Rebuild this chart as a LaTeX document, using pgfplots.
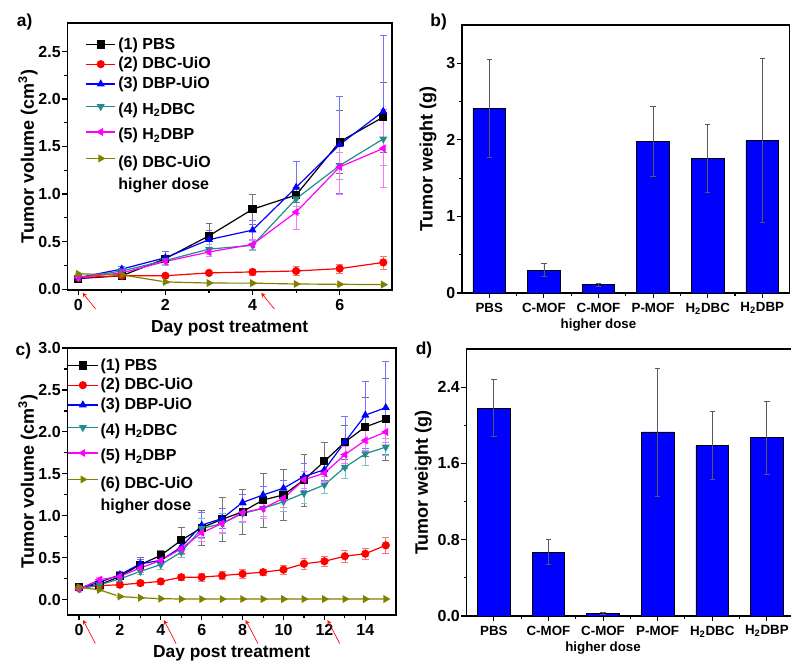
\documentclass[border=0pt]{standalone}
\usepackage{fontspec}
\setmainfont{Liberation Sans}
\usepackage{pgfplots}
\pgfplotsset{compat=1.18}

\definecolor{cred}{RGB}{255,0,0}
\definecolor{cblue}{RGB}{0,0,255}
\definecolor{cteal}{RGB}{32,140,140}
\definecolor{cmag}{RGB}{255,0,255}
\definecolor{colive}{RGB}{128,128,0}

\newcommand{\tk}{\fontsize{12}{14}\selectfont\bfseries}
\newcommand{\lb}{\fontsize{13}{15}\selectfont\bfseries}
% legend cells are anchored west, so a strut centred on the text widens the row both ways
\newcommand{\tall}{\rule[-7pt]{0pt}{20pt}}
\newcommand{\twoline}{\raisebox{0pt}[14.5pt][7.5pt]{\begin{tabular}[t]{@{}l@{}}(6) DBC-UiO\\[2.5pt]higher dose\end{tabular}}}

\pgfplotsset{
  panel/.style={
    scale only axis,
    axis line style={line width=1.2pt},
    tick align=outside, xtick pos=bottom, ytick pos=left,
    major tick length=3.8pt, minor tick length=2.2pt,
    every tick/.style={line width=0.8pt, black},
    ticklabel style={font=\tk},
    yticklabel style={inner xsep=1pt},
    xlabel style={font=\lb},
    ylabel style={font=\fontsize{13.5}{15}\selectfont\bfseries},
    /pgf/number format/assume math mode=true,
    clip=false,
  },
  ser/.style n args={3}{
    color=#1, line width=0.9pt, mark=#2, mark size=2.6pt,
    mark options={solid, fill=#1, rotate=#3},
    error bars/y dir=both, error bars/y explicit,
    error bars/error bar style={line width=0.5pt, #1!55},
  },
  lgd/.style={
    legend image code/.code={\draw[mark repeat=2,mark phase=2]
      plot coordinates {(0pt,0pt) (11pt,0pt) (22pt,0pt)};},
    legend style={draw=none, fill=none, font=\tk, inner xsep=0pt,
      row sep=1pt, nodes={inner sep=1.8pt}},
    legend cell align=left,
  },
  bars/.style={
    panel, ymin=0, xmin=-0.5, xmax=5.5, xtick={0,...,5}, minor x tick num=1,
    width=245.7pt,
    xticklabels={PBS, C-MOF, {C-MOF\\higher dose}, P-MOF,
      H\textsubscript{2}DBC, H\textsubscript{2}DBP},
    xticklabel style={align=center, font=\fontsize{10}{12}\selectfont\bfseries},
    ylabel={Tumor weight (g)},
  },
  barplot/.style={
    ybar, bar width=24.5pt, fill=cblue, draw=black, line width=0.6pt,
    error bars/y dir=both, error bars/y explicit,
    error bars/error bar style={gray!70!black, line width=0.6pt},
  },
}

\begin{document}
\begin{tikzpicture}
\useasboundingbox (0,0) rectangle (593.25pt,500.25pt);

% ---------------- a) ----------------
\begin{axis}[panel, lgd,
  at={(50.5pt,282.75pt)}, anchor=south west,
  width=243.5pt, height=200.25pt,
  xmin=-0.25, xmax=7.2, ymin=-0.01, ymax=2.8,
  xtick={0,2,4,6}, minor x tick num=1,
  ytick={0,0.5,...,2.5}, minor y tick num=1,
  yticklabel style={/pgf/number format/.cd, fixed, fixed zerofill, precision=1},
  xlabel={Day post treatment}, ylabel={Tumor volume (cm\textsuperscript{3})},
  ylabel shift=-4pt,
  legend style={at={(0.055,0.965)}, anchor=north west},
]
\addplot[ser={black}{square*}{0}] table[x=x, y=y, y error=e] {
x y e
0 0.11 0.02
1 0.14 0.03
2 0.32 0.04
3 0.56 0.13
4 0.84 0.16
5 0.99 0.08
6 1.55 0.33
7 1.81 0.37
};
\addlegendentry{(1) PBS}
\addplot[ser={cred}{*}{0}] table[x=x, y=y, y error=e] {
x y e
0 0.12 0.02
1 0.14 0.02
2 0.14 0.02
3 0.17 0.03
4 0.18 0.03
5 0.19 0.05
6 0.215 0.05
7 0.28 0.07
};
\addlegendentry{(2) DBC-UiO}
\addplot[ser={cblue}{triangle*}{0}] table[x=x, y=y, y error=e] {
x y e
0 0.12 0.02
1 0.21 0.03
2 0.33 0.07
3 0.52 0.10
4 0.62 0.10
5 1.07 0.27
6 1.52 0.51
7 1.87 0.80
};
\addlegendentry{(3) DBP-UiO}
\addplot[ser={cteal}{triangle*}{180}] table[x=x, y=y, y error=e] {
x y e
0 0.12 0.02
1 0.19 0.03
2 0.30 0.04
3 0.42 0.05
4 0.46 0.05
5 0.95 0.08
6 1.30 0.14
7 1.58 0.28
};
\addlegendentry{\tall(4) H\textsubscript{2}DBC}
\addplot[ser={cmag}{triangle*}{90}] table[x=x, y=y, y error=e] {
x y e
0 0.12 0.02
1 0.17 0.03
2 0.29 0.04
3 0.39 0.05
4 0.47 0.05
5 0.81 0.18
6 1.285 0.29
7 1.48 0.41
};
\addlegendentry{\tall(5) H\textsubscript{2}DBP}
\addplot[ser={colive}{triangle*}{-90}] table[x=x, y=y, y error=e] {
x y e
0 0.16 0.01
1 0.15 0.01
2 0.075 0.01
3 0.063 0.005
4 0.062 0.005
5 0.053 0.005
6 0.05 0.005
7 0.047 0.005
};
\addlegendentry{\twoline}
\draw[cred, line width=0.5pt, -stealth] (0.4,-0.21) -- (0.1,-0.04);
\draw[cred, line width=0.5pt, -stealth] (4.5,-0.21) -- (4.2,-0.04);
\end{axis}

% ---------------- b) ----------------
\begin{axis}[bars,
  at={(346.5pt,280.5pt)}, anchor=south west,
  height=201pt, ymax=3.5, ylabel shift=3pt,
  ytick={0,1,2,3}, minor y tick num=1,
]
\addplot[barplot] coordinates {
(0,2.41) +- (0,0.64)
(1,0.30) +- (0,0.085)
(2,0.11) +- (0,0.02)
(3,1.98) +- (0,0.46)
(4,1.76) +- (0,0.44)
(5,1.99) +- (0,1.07)
};
\end{axis}

% ---------------- c) ----------------
\begin{axis}[panel, lgd,
  at={(50.5pt,39pt)}, anchor=south west,
  width=246.5pt, height=200.25pt,
  xmin=-0.57, xmax=15.5, ymin=-0.18, ymax=3.0,
  xtick={0,2,...,14}, minor x tick num=1,
  ytick={0,0.5,...,3.0}, minor y tick num=1,
  yticklabel style={/pgf/number format/.cd, fixed, fixed zerofill, precision=1},
  xlabel={Day post treatment}, ylabel={Tumor volume (cm\textsuperscript{3})},
  ylabel shift=-4pt,
  legend style={at={(0,0.98)}, anchor=north west},
  every axis plot/.append style={mark size=2.3pt},
]
\addplot[ser={black}{square*}{0}] table[x=x, y=y, y error=e] {
x y e
0 0.15 0.02
1 0.18 0.03
2 0.28 0.04
3 0.42 0.09
4 0.53 0.06
5 0.71 0.16
6 0.86 0.21
7 0.96 0.26
8 1.05 0.27
9 1.19 0.32
10 1.25 0.30
11 1.43 0.31
12 1.65 0.23
13 1.88 0.20
14 2.06 0.35
15 2.15 0.49
};
\addlegendentry{(1) PBS}
\addplot[ser={cred}{*}{0}] table[x=x, y=y, y error=e] {
x y e
0 0.14 0.02
1 0.17 0.02
2 0.18 0.03
3 0.20 0.03
4 0.22 0.03
5 0.27 0.04
6 0.27 0.05
7 0.29 0.05
8 0.31 0.05
9 0.33 0.04
10 0.36 0.05
11 0.43 0.06
12 0.46 0.06
13 0.52 0.07
14 0.55 0.07
15 0.65 0.09
};
\addlegendentry{(2) DBC-UiO}
\addplot[ser={cblue}{triangle*}{0}] table[x=x, y=y, y error=e] {
x y e
0 0.14 0.02
1 0.21 0.03
2 0.30 0.04
3 0.43 0.05
4 0.47 0.05
5 0.63 0.08
6 0.89 0.15
7 0.97 0.12
8 1.16 0.10
9 1.25 0.10
10 1.33 0.09
11 1.47 0.16
12 1.55 0.12
13 1.88 0.31
14 2.20 0.40
15 2.29 0.55
};
\addlegendentry{(3) DBP-UiO}
\addplot[ser={cteal}{triangle*}{180}] table[x=x, y=y, y error=e] {
x y e
0 0.13 0.02
1 0.18 0.03
2 0.25 0.03
3 0.34 0.04
4 0.42 0.05
5 0.57 0.06
6 0.85 0.12
7 0.91 0.12
8 1.03 0.10
9 1.09 0.10
10 1.17 0.12
11 1.27 0.12
12 1.37 0.10
13 1.58 0.13
14 1.74 0.14
15 1.82 0.10
};
\addlegendentry{\tall(4) H\textsubscript{2}DBC}
\addplot[ser={cmag}{triangle*}{90}] table[x=x, y=y, y error=e] {
x y e
0 0.13 0.02
1 0.24 0.03
2 0.28 0.04
3 0.38 0.05
4 0.47 0.05
5 0.61 0.07
6 0.80 0.10
7 0.91 0.10
8 1.04 0.10
9 1.09 0.12
10 1.21 0.11
11 1.43 0.10
12 1.51 0.10
13 1.73 0.10
14 1.90 0.12
15 2.00 0.12
};
\addlegendentry{\tall(5) H\textsubscript{2}DBP}
\addplot[ser={colive}{triangle*}{-90}] table[x=x, y=y, y error=e] {
x y e
0 0.15 0.01
1 0.12 0.01
2 0.04 0.01
3 0.025 0.005
4 0.015 0.005
5 0.01 0.005
6 0.01 0.005
7 0.01 0.005
8 0.01 0.005
9 0.01 0.005
10 0.01 0.005
11 0.01 0.005
12 0.01 0.005
13 0.01 0.005
14 0.01 0.005
15 0.01 0.005
};
\addlegendentry{\twoline}
\draw[cred, line width=0.5pt, -stealth] (0.8,-0.52) -- (0.2,-0.24);
\draw[cred, line width=0.5pt, -stealth] (4.75,-0.52) -- (4.15,-0.24);
\draw[cred, line width=0.5pt, -stealth] (8.75,-0.52) -- (8.15,-0.24);
\draw[cred, line width=0.5pt, -stealth] (12.75,-0.52) -- (12.15,-0.24);
\end{axis}

% ---------------- d) ----------------
\begin{axis}[bars,
  at={(349.9pt,38.25pt)}, anchor=south west,
  height=200.25pt, ymax=2.8, ylabel shift=0pt,
  ytick={0,0.8,1.6,2.4}, minor y tick num=1,
  yticklabel style={/pgf/number format/.cd, fixed, fixed zerofill, precision=1},
]
\addplot[barplot] coordinates {
(0,2.18) +- (0,0.30)
(1,0.67) +- (0,0.13)
(2,0.03) +- (0,0.01)
(3,1.93) +- (0,0.67)
(4,1.79) +- (0,0.36)
(5,1.87) +- (0,0.38)
};
\end{axis}

\node[font=\lb] at (18.5pt,484pt) {a)};
\node[font=\lb] at (329pt,484pt) {b)};
\node[font=\lb] at (17.5pt,237pt) {c)};
\node[font=\lb] at (318pt,238pt) {d)};
\end{tikzpicture}
\end{document}
